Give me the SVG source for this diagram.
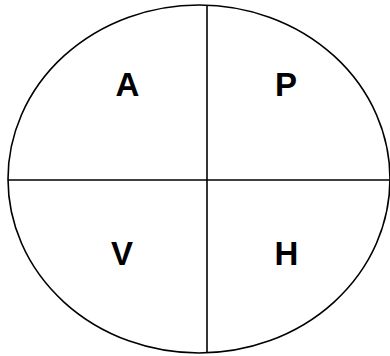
<svg xmlns="http://www.w3.org/2000/svg" width="390" height="356" viewBox="0 0 390 356">
<style>
.l{fill:none;stroke:#000;stroke-width:1.6}
.t{font-family:"Liberation Sans",Arial,sans-serif;font-weight:bold;font-size:33px;fill:#000;text-anchor:middle}
</style>
<rect width="390" height="356" fill="#fff"/>
<g id="oval"><ellipse class="l" cx="199" cy="179" rx="191" ry="174"/></g>
<g id="connectors">
<line class="l" x1="207" y1="5" x2="207" y2="353"/>
<line class="l" x1="8" y1="180" x2="390" y2="180"/>
</g>
<g id="A"><text class="t" x="127.5" y="96">A</text></g>
<g id="P"><text class="t" x="286" y="96">P</text></g>
<g id="V"><text class="t" x="122" y="265">V</text></g>
<g id="H"><text class="t" x="286.5" y="265">H</text></g>
</svg>
